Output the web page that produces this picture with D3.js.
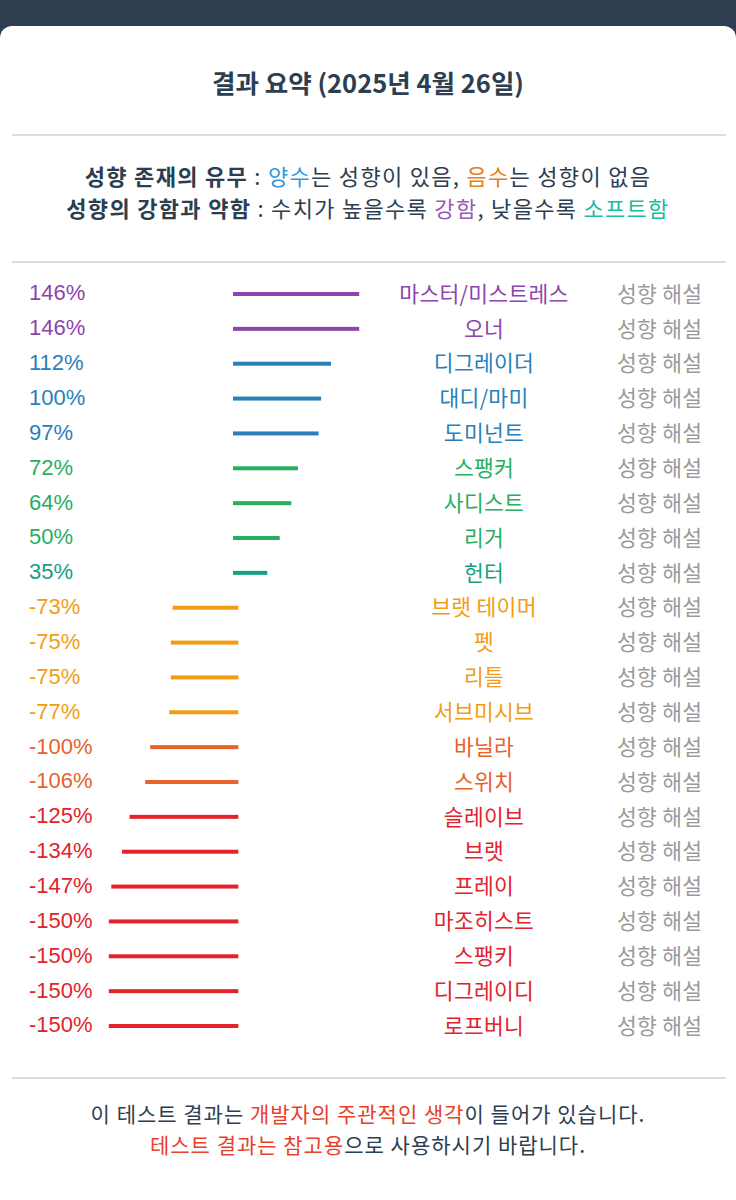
<!DOCTYPE html>
<html>
<head>
<meta charset="utf-8">
<script src="https://cdn.jsdelivr.net/npm/d3@7"></script>
<style>
	html, body { margin: 0; padding: 0; background: #2c3e50; }
	svg { display: block; }
</style>
</head>
<body>
<div id="chart"></div>
<script>
var categories = ['마스터/미스트레스', '오너', '디그레이더', '대디/마미', '도미넌트', '스팽커', '사디스트', '리거', '헌터',
	'브랫 테이머', '펫', '리틀', '서브미시브', '바닐라', '스위치', '슬레이브', '브랫', '프레이', '마조히스트', '스팽키', '디그레이디', '로프버니'];
var values = [146, 146, 112, 100, 97, 72, 64, 50, 35, -73, -75, -75, -77, -100, -106, -125, -134, -147, -150, -150, -150, -150];
var tierLimits = [-120, -90, 0, 40, 90, 130];
var tierColors = ['#e2232a', '#e8622c', '#f39c12', '#16a085', '#27ae60', '#2980b9', '#8e44ad'];
var detailLabel = '성향 해설';

var legendLines = [
	[['성향 존재의 유무', '#2c3e50', 700], [' : ', '#2c3e50', 400], ['양수', '#3498db', 400], ['는 성향이 있음, ', '#2c3e50', 400], ['음수', '#e67e22', 400], ['는 성향이 없음', '#2c3e50', 400]],
	[['성향의 강함과 약함', '#2c3e50', 700], [' : 수치가 높을수록 ', '#2c3e50', 400], ['강함', '#9b59b6', 400], [', 낮을수록 ', '#2c3e50', 400], ['소프트함', '#1abc9c', 400]]
];
var footerLines = [
	[['이 테스트 결과는 ', '#2c3e50'], ['개발자의 주관적인 생각', '#e8412c'], ['이 들어가 있습니다.', '#2c3e50']],
	[['테스트 결과는 참고용', '#e8412c'], ['으로 사용하시기 바랍니다.', '#2c3e50']]
];

var W = 736, H = 1200;
var kr = '"Noto Sans CJK KR", "Noto Sans", sans-serif';

var svg = d3.select('#chart')
	.append('svg')
	.attr('width', W)
	.attr('height', H);

// card on top of the dark header band
svg.append('rect')
	.attr('x', 0).attr('y', 26)
	.attr('width', W).attr('height', H)
	.attr('rx', 12)
	.style('fill', '#fff');

svg.append('text')
	.attr('x', W / 2).attr('y', 84)
	.attr('dy', '0.35em')
	.attr('text-anchor', 'middle')
	.style('font-family', kr)
	.style('font-size', '25.5px')
	.style('font-weight', 700)
	.style('fill', '#2c3e50')
	.text('결과 요약 (2025년 4월 26일)');

[135, 262, 1078].forEach(function(y) {
	svg.append('line')
		.attr('x1', 12).attr('x2', 726)
		.attr('y1', y).attr('y2', y)
		.style('stroke', '#dcdcdc')
		.style('stroke-width', 2);
});

function richLine(parts, y, size, spacing) {
	var t = svg.append('text')
		.attr('x', W / 2).attr('y', y)
		.attr('dy', '0.35em')
		.attr('text-anchor', 'middle')
		.style('font-family', kr)
		.style('font-size', size + 'px')
		.style('letter-spacing', spacing + 'px')
		.attr('xml:space', 'preserve');
	parts.forEach(function(p) {
		t.append('tspan')
			.style('fill', p[1])
			.style('font-weight', p[2] || 400)
			.text(p[0]);
	});
}

richLine(legendLines[0], 177, 22, 1.3);
richLine(legendLines[1], 209, 22, 1.3);
richLine(footerLines[0], 1115, 21, 1);
richLine(footerLines[1], 1146, 21, 1);

// rows
var y = d3.scaleLinear().domain([0, categories.length - 1]).range([294, 1026]);
var len = d3.scaleLinear().domain([0, 150]).range([5.3, 129.5]);
var color = d3.scaleThreshold().domain(tierLimits).range(tierColors);
var posStart = 233, negEnd = 238.3;

var rows = svg.append('g').selectAll('g')
	.data(values)
	.enter().append('g')
	.attr('transform', function(d, i) { return 'translate(0,' + y(i) + ')'; });

rows.append('rect')
	.attr('x', function(d) { return d >= 0 ? posStart : negEnd - len(-d); })
	.attr('y', -2)
	.attr('width', function(d) { return len(Math.abs(d)); })
	.attr('height', 4)
	.style('fill', function(d) { return color(d); });

rows.append('text')
	.attr('x', 29)
	.attr('y', -1.5)
	.attr('dy', '0.36em')
	.style('font-family', '"Liberation Sans", Arial, sans-serif')
	.style('font-size', '22px')
	.style('fill', function(d) { return color(d); })
	.text(function(d) { return d + '%'; });

rows.append('text')
	.attr('x', 484)
	.attr('dy', '0.36em')
	.attr('text-anchor', 'middle')
	.style('font-family', kr)
	.style('font-size', '21.5px')
	.style('letter-spacing', '0.3px')
	.style('fill', function(d) { return color(d); })
	.text(function(d, i) { return categories[i]; });

rows.append('text')
	.attr('x', 617)
	.attr('dy', '0.36em')
	.style('font-family', kr)
	.style('font-size', '21.5px')
	.style('letter-spacing', '0.3px')
	.style('fill', '#9a9a9a')
	.text(detailLabel);
</script>
</body>
</html>
